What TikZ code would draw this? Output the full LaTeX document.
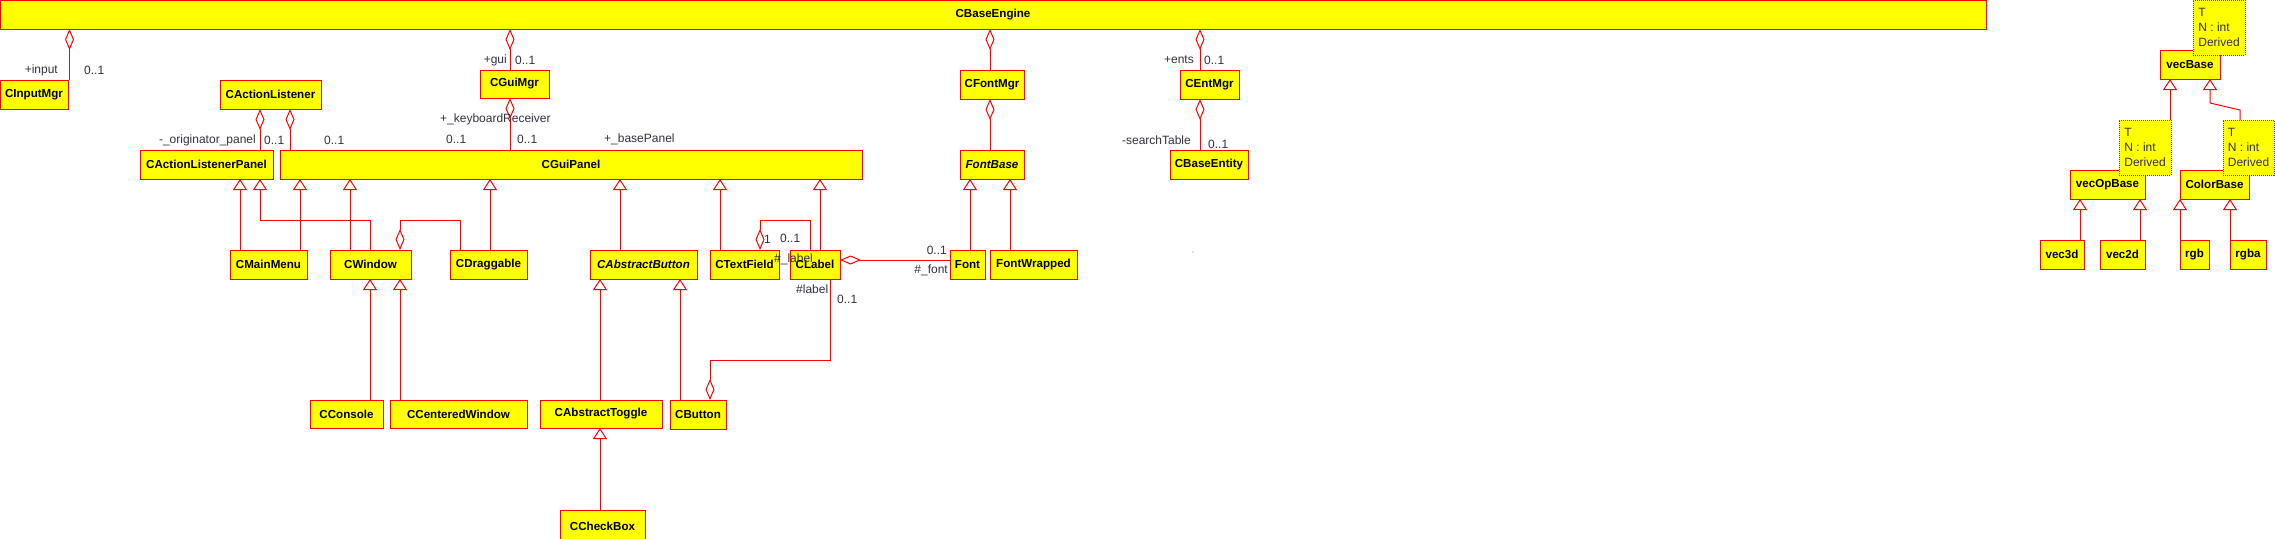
\documentclass[tikz,border=0pt]{standalone}
\usepackage{fontspec}
\setmainfont{Liberation Sans}
\usetikzlibrary{arrows.meta}
\definecolor{umlred}{RGB}{255,0,0}
\definecolor{umlyellow}{RGB}{255,255,0}
\definecolor{labelgray}{RGB}{50,50,65}
\newcommand{\umlbox}[6]{\node[umlcls, minimum width={(#4-#2)*1pt}, minimum height={(#5-#3)*1pt}] (#1) at (#2,#3) {#6};}
\newcommand{\umltpl}[5]{\node[umltmpl, minimum width={(#4-#2)*1pt}, minimum height={(#5-#3)*1pt}] (#1) at (#2,#3) {T\\N : int\\Derived};}
\begin{document}
\begin{tikzpicture}[x=1pt,y=-1pt,
  umlcls/.style={draw=umlred, fill=umlyellow, line width=1pt, inner sep=0pt, outer sep=0pt, anchor=north west, font=\fontsize{11.6}{14}\selectfont\bfseries, text=black},
  umltmpl/.style={draw=umlred, fill=umlyellow, line width=1pt, densely dotted, inner sep=0pt, outer sep=0pt, anchor=north west, align=left, font=\fontsize{12}{15}\selectfont, text=labelgray},
  inh/.style={draw=umlred, line width=1pt, -{Triangle[open, length=11pt, width=14pt]}},
  agg/.style={draw=umlred, line width=1pt, -{Diamond[open, length=21pt, width=9pt]}},
  lbl/.style={inner sep=0pt, font=\fontsize{12}{14}\selectfont, text=labelgray}]
\useasboundingbox (0,0) rectangle (2275,538);
\fill[white] (0,0) rectangle (2275,538);

% classes
\umlbox{CBaseEngine}{0}{0}{1986}{29}{CBaseEngine}
\umlbox{CInputMgr}{0}{80}{68}{109}{CInputMgr}
\umlbox{CActionListener}{220}{80}{321}{109}{CActionListener}
\umlbox{CGuiMgr}{480}{70}{549}{98}{CGuiMgr}
\umlbox{CFontMgr}{960}{70}{1024}{99}{CFontMgr}
\umlbox{CEntMgr}{1180}{70}{1239}{99}{CEntMgr}
\umlbox{CActionListenerPanel}{140}{150}{273}{179}{CActionListenerPanel}
\umlbox{CGuiPanel}{280}{150}{862}{179}{CGuiPanel}
\umlbox{FontBase}{960}{150}{1024}{179}{\itshape FontBase}
\umlbox{CBaseEntity}{1170}{150}{1248}{179}{CBaseEntity}
\umlbox{CMainMenu}{230}{250}{307}{279}{CMainMenu}
\umlbox{CWindow}{330}{250}{411}{279}{CWindow}
\umlbox{CDraggable}{450}{250}{527}{279}{CDraggable}
\umlbox{CAbstractButton}{590}{250}{697}{279}{\itshape CAbstractButton}
\umlbox{CTextField}{710}{250}{779}{279}{CTextField}
\umlbox{CLabel}{790}{250}{840}{279}{CLabel}
\umlbox{Font}{950}{250}{985}{279}{Font}
\umlbox{FontWrapped}{990}{250}{1077}{279}{FontWrapped}
\umlbox{CConsole}{310}{400}{383}{428}{CConsole}
\umlbox{CCenteredWindow}{390}{400}{527}{428}{CCenteredWindow}
\umlbox{CAbstractToggle}{540}{400}{662}{428}{CAbstractToggle}
\umlbox{CButton}{670}{400}{726}{429}{CButton}
\umlbox{CCheckBox}{560}{510}{645}{546}{\raisebox{3.5pt}{CCheckBox}}
\umlbox{vecBase}{2160}{50}{2220}{79}{vecBase}
\umlbox{vecOpBase}{2070}{170}{2145}{199}{vecOpBase}
\umlbox{ColorBase}{2180}{170}{2249}{199}{ColorBase}
\umlbox{vec3d}{2040}{240}{2084}{269}{vec3d}
\umlbox{vec2d}{2100}{240}{2145}{269}{vec2d}
\umlbox{rgb}{2180}{240}{2209}{269}{rgb}
\umlbox{rgba}{2230}{240}{2266}{269}{rgba}

% aggregations
\draw[agg] ([xshift=1.5pt]CInputMgr.north east) -- ([xshift=1.5pt]CInputMgr.north east |- CBaseEngine.south);
\draw[agg] ([xshift=30pt]CGuiMgr.north west) -- ([xshift=30pt]CGuiMgr.north west |- CBaseEngine.south);
\draw[agg] ([xshift=30pt]CFontMgr.north west) -- ([xshift=30pt]CFontMgr.north west |- CBaseEngine.south);
\draw[agg] ([xshift=20pt]CEntMgr.north west) -- ([xshift=20pt]CEntMgr.north west |- CBaseEngine.south);
\draw[agg] ([xshift=120pt]CActionListenerPanel.north west) -- ([xshift=120pt]CActionListenerPanel.north west |- CActionListener.south);
\draw[agg] ([xshift=10pt]CGuiPanel.north west) -- ([xshift=10pt]CGuiPanel.north west |- CActionListener.south);
\draw[agg] ([xshift=230pt]CGuiPanel.north west) -- ([xshift=230pt]CGuiPanel.north west |- CGuiMgr.south);
\draw[agg] ([xshift=30pt]FontBase.north west) -- ([xshift=30pt]FontBase.north west |- CFontMgr.south);
\draw[agg] ([xshift=30pt]CBaseEntity.north west) -- ([xshift=30pt]CBaseEntity.north west |- CEntMgr.south);
\draw[agg] ([xshift=10pt]CDraggable.north west) -- ++(0,-30) -| ([xshift=70pt]CWindow.north west);
\draw[agg] ([xshift=20pt]CLabel.north west) -- ++(0,-30) -| ([xshift=50pt]CTextField.north west);
\draw[agg] ([yshift=-10pt]Font.north west) -- ([yshift=-10pt]CLabel.north east);
\draw[agg] ([xshift=40pt]CLabel.south west) -- ++(0,81) -| ([xshift=40pt]CButton.north west);

% generalizations
\draw[inh] ([xshift=10pt]CMainMenu.north west) -- ([xshift=10pt]CMainMenu.north west |- CActionListenerPanel.south);
\draw[inh] ([xshift=70pt]CMainMenu.north west) -- ([xshift=70pt]CMainMenu.north west |- CGuiPanel.south);
\draw[inh] ([xshift=20pt]CWindow.north west) -- ([xshift=20pt]CWindow.north west |- CGuiPanel.south);
\draw[inh] ([xshift=40pt]CWindow.north west) -- ++(0,-30) -| ([xshift=120pt]CActionListenerPanel.south west);
\draw[inh] ([xshift=40pt]CDraggable.north west) -- ([xshift=40pt]CDraggable.north west |- CGuiPanel.south);
\draw[inh] ([xshift=30pt]CAbstractButton.north west) -- ([xshift=30pt]CAbstractButton.north west |- CGuiPanel.south);
\draw[inh] ([xshift=10pt]CTextField.north west) -- ([xshift=10pt]CTextField.north west |- CGuiPanel.south);
\draw[inh] ([xshift=30pt]CLabel.north west) -- ([xshift=30pt]CLabel.north west |- CGuiPanel.south);
\draw[inh] ([xshift=20pt]Font.north west) -- ([xshift=20pt]Font.north west |- FontBase.south);
\draw[inh] ([xshift=20pt]FontWrapped.north west) -- ([xshift=20pt]FontWrapped.north west |- FontBase.south);
\draw[inh] ([xshift=60pt]CConsole.north west) -- ([xshift=60pt]CConsole.north west |- CWindow.south);
\draw[inh] ([xshift=10pt]CCenteredWindow.north west) -- ([xshift=10pt]CCenteredWindow.north west |- CWindow.south);
\draw[inh] ([xshift=60pt]CAbstractToggle.north west) -- ([xshift=60pt]CAbstractToggle.north west |- CAbstractButton.south);
\draw[inh] ([xshift=10pt]CButton.north west) -- ([xshift=10pt]CButton.north west |- CAbstractButton.south);
\draw[inh] ([xshift=40pt]CCheckBox.north west) -- ([xshift=40pt]CCheckBox.north west |- CAbstractToggle.south);
\draw[inh] ([xshift=40pt]vec3d.north west) -- ([xshift=40pt]vec3d.north west |- vecOpBase.south);
\draw[inh] ([xshift=40pt]vec2d.north west) -- ([xshift=40pt]vec2d.north west |- vecOpBase.south);
\draw[inh] (rgb.north west) -- (rgb.north west |- ColorBase.south);
\draw[inh] (rgba.north west) -- (rgba.north west |- ColorBase.south);

% templates
\umltpl{vecBaseT}{2193}{0}{2245}{55}
\umltpl{vecOpBaseT}{2119}{120}{2171}{175}
\umltpl{ColorBaseT}{2223}{120}{2274}{175}
\draw[inh] ([xshift=10pt]vecBase.south west |- vecOpBaseT.north) -- ([xshift=10pt]vecBase.south west);
\draw[inh] ([xshift=17pt]ColorBaseT.north west) -- ++(0,-10) -- ++(-30,-7) -- ([xshift=50pt]vecBase.south west);

% labels
\node[lbl, anchor=east] (l1) at (58,70) {+input};
\node[lbl, anchor=west] (l2) at (84,70) {0..1};
\node[lbl, anchor=east] (l3) at (256,140) {-\_originator\_panel};
\node[lbl, anchor=west] (l4) at (264,140) {0..1};
\node[lbl, anchor=west] (l5) at (324,140) {0..1};
\node[lbl, anchor=east] (l6) at (507,60) {+gui};
\node[lbl, anchor=west] (l7) at (515,60) {0..1};
\node[lbl, anchor=west] (l8) at (440,119) {+\_keyboardReceiver};
\node[lbl, anchor=west] (l9) at (446,139) {0..1};
\node[lbl, anchor=west] (l10) at (517,139) {0..1};
\node[lbl, anchor=west] (l11) at (604,139) {+\_basePanel};
\node[lbl, anchor=east] (l12) at (1194,60) {+ents};
\node[lbl, anchor=west] (l13) at (1204,60) {0..1};
\node[lbl, anchor=east] (l14) at (1191,140) {-searchTable};
\node[lbl, anchor=west] (l15) at (1208,144) {0..1};
\node[lbl, anchor=west] (l16) at (764,239) {1};
\node[lbl, anchor=west] (l17) at (780,238) {0..1};
\node[lbl, anchor=west] (l18) at (774,259) {\#\_label};
\node[lbl, anchor=east] (l19) at (947,250) {0..1};
\node[lbl, anchor=east] (l20) at (948,270) {\#\_font};
\node[lbl, anchor=west] (l21) at (796,289) {\#label};
\node[lbl, anchor=west] (l22) at (837,299) {0..1};
\fill[gray] (1193,252) circle (0.6pt);
\end{tikzpicture}
\end{document}
